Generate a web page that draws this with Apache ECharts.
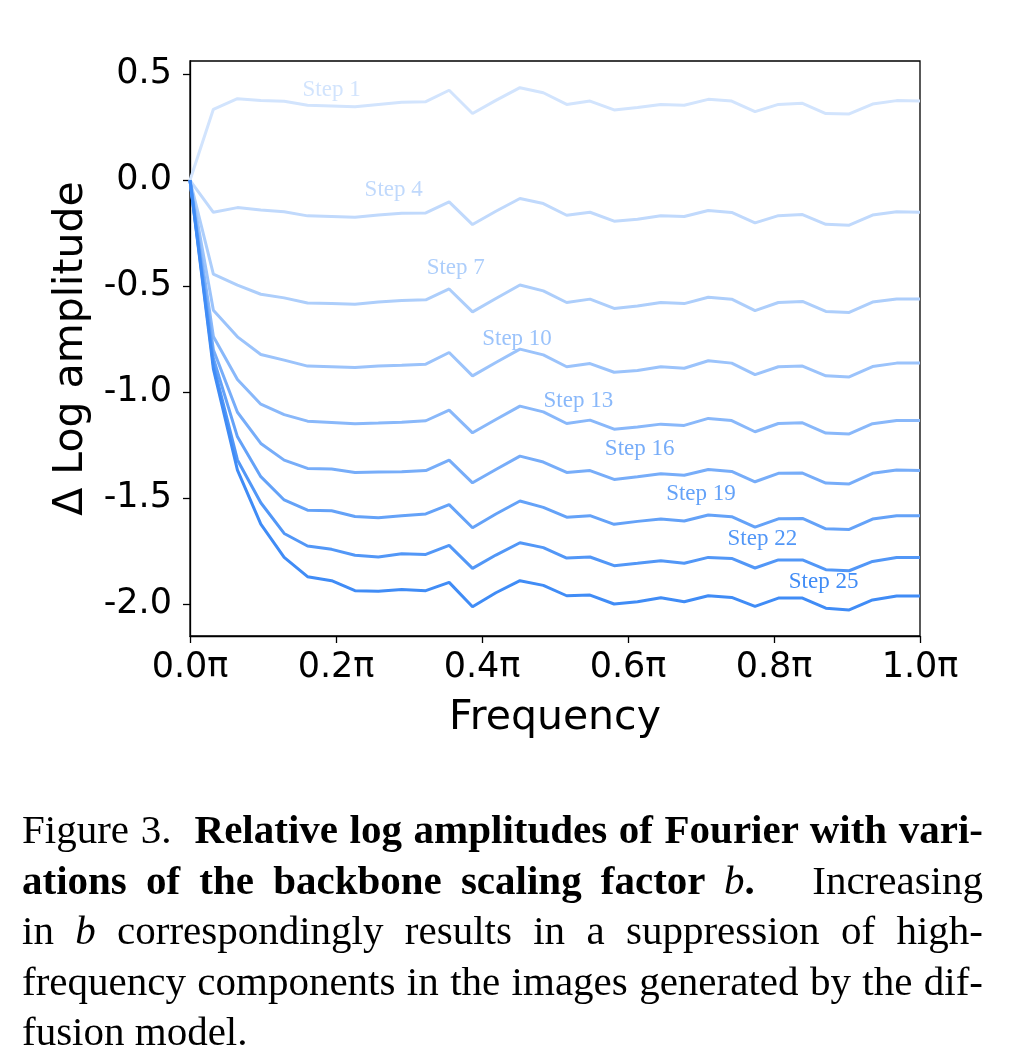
<!DOCTYPE html>
<html>
<head>
<meta charset="utf-8">
<script src="https://cdn.jsdelivr.net/npm/echarts@6/dist/echarts.min.js"></script>
<style>
  html, body { margin: 0; padding: 0; background: #fff; }
  #wrap { position: relative; width: 1036px; height: 1064px; }
  #chart { position: absolute; left: 0; top: 0; width: 1036px; height: 1064px; }
  #caption {
    position: absolute; left: 22px; top: 804px; width: 961px;
    font-family: "Liberation Serif", "Times New Roman", serif;
    font-size: 41px; line-height: 50.6px; color: #000;
  }
  #caption div { text-align: justify; text-align-last: justify; }
  #caption div.last { text-align-last: left; }
</style>
</head>
<body>
<div id="wrap">
  <div id="chart"></div>
  <div id="caption">
    <div>Figure 3.&nbsp; <b>Relative log amplitudes of Fourier with vari-</b></div>
    <div><b>ations of the backbone scaling factor <i style="font-weight:normal">b</i>.</b>&nbsp;&nbsp; Increasing</div>
    <div>in <i>b</i> correspondingly results in a suppression of high-</div>
    <div>frequency components in the images generated by the dif-</div>
    <div class="last">fusion model.</div>
  </div>
</div>
<script>
// frequency (in units of pi)
var freq = [0, 0.032, 0.065, 0.097, 0.129, 0.161, 0.194, 0.226, 0.258, 0.290, 0.323, 0.355,
  0.387, 0.419, 0.452, 0.484, 0.516, 0.548, 0.581, 0.613, 0.645, 0.677, 0.710, 0.742,
  0.774, 0.806, 0.839, 0.871, 0.903, 0.935, 0.968, 1.0];

var stepNames = ["Step 1", "Step 4", "Step 7", "Step 10", "Step 13", "Step 16", "Step 19", "Step 22", "Step 25"];

var step1 = [0, 0.335, 0.385, 0.377, 0.373, 0.354, 0.351, 0.347, 0.358, 0.368, 0.371, 0.425, 0.315, 0.377, 0.437, 0.413,
  0.358, 0.374, 0.332, 0.343, 0.358, 0.354, 0.382, 0.374, 0.324, 0.358, 0.363, 0.315, 0.313, 0.360, 0.376, 0.374];
var step4 = [0, -0.151, -0.129, -0.140, -0.149, -0.168, -0.171, -0.175, -0.164, -0.156, -0.154, -0.102, -0.209, -0.146, -0.086, -0.110,
  -0.165, -0.151, -0.193, -0.184, -0.167, -0.171, -0.143, -0.152, -0.201, -0.167, -0.162, -0.208, -0.212, -0.164, -0.149, -0.151];
var step7 = [0, -0.443, -0.495, -0.538, -0.555, -0.579, -0.582, -0.585, -0.575, -0.568, -0.564, -0.513, -0.621, -0.558, -0.494, -0.522,
  -0.577, -0.561, -0.605, -0.593, -0.577, -0.582, -0.552, -0.561, -0.615, -0.577, -0.572, -0.619, -0.624, -0.575, -0.560, -0.560];
var step10 = [0, -0.613, -0.739, -0.822, -0.849, -0.877, -0.880, -0.884, -0.877, -0.873, -0.868, -0.813, -0.923, -0.860, -0.797, -0.824,
  -0.880, -0.865, -0.906, -0.898, -0.880, -0.887, -0.852, -0.863, -0.917, -0.880, -0.877, -0.923, -0.928, -0.879, -0.863, -0.863];
var step13 = [0, -0.737, -0.940, -1.057, -1.106, -1.137, -1.143, -1.149, -1.146, -1.142, -1.135, -1.085, -1.192, -1.129, -1.066, -1.093,
  -1.148, -1.132, -1.175, -1.165, -1.151, -1.157, -1.124, -1.134, -1.187, -1.148, -1.145, -1.193, -1.197, -1.149, -1.134, -1.134];
var step16 = [0, -0.800, -1.095, -1.242, -1.321, -1.360, -1.363, -1.379, -1.377, -1.376, -1.370, -1.321, -1.428, -1.365, -1.302, -1.330,
  -1.379, -1.370, -1.412, -1.399, -1.385, -1.392, -1.365, -1.374, -1.423, -1.383, -1.382, -1.429, -1.433, -1.383, -1.368, -1.370];
var step19 = [0, -0.840, -1.211, -1.399, -1.509, -1.557, -1.560, -1.587, -1.593, -1.583, -1.575, -1.531, -1.640, -1.575, -1.514, -1.544,
  -1.590, -1.583, -1.624, -1.610, -1.599, -1.608, -1.580, -1.588, -1.637, -1.598, -1.596, -1.645, -1.648, -1.599, -1.583, -1.583];
var step22 = [0, -0.870, -1.320, -1.522, -1.667, -1.726, -1.742, -1.770, -1.778, -1.763, -1.766, -1.723, -1.832, -1.769, -1.711, -1.734,
  -1.783, -1.778, -1.819, -1.808, -1.796, -1.808, -1.780, -1.785, -1.830, -1.792, -1.792, -1.838, -1.843, -1.799, -1.780, -1.780];
var step25 = [0, -0.890, -1.368, -1.623, -1.780, -1.871, -1.890, -1.937, -1.940, -1.931, -1.937, -1.898, -2.013, -1.947, -1.890, -1.912,
  -1.961, -1.958, -2.000, -1.989, -1.970, -1.989, -1.961, -1.969, -2.011, -1.972, -1.972, -2.020, -2.028, -1.981, -1.962, -1.962];

// where each "Step n" text sits, in data units
var labelX = [0.194, 0.279, 0.364, 0.448, 0.532, 0.616, 0.700, 0.784, 0.868];
var labelY = [0.427, -0.045, -0.415, -0.750, -1.042, -1.269, -1.481, -1.691, -1.896];

var xTicks = [0, 0.2, 0.4, 0.6, 0.8, 1.0];
var yTicks = [-2.0, -1.5, -1.0, -0.5, 0.0, 0.5];

var colors = ["#d2e4fd", "#c0d9fc", "#adcefb", "#9bc3fb", "#89b8fa", "#77adf9", "#64a2f8", "#5297f7", "#408cf6"];

var allSteps = [step1, step4, step7, step10, step13, step16, step19, step22, step25];

var chart = echarts.init(document.getElementById("chart"));

var series = allSteps.map(function (vals, i) {
  return {
    name: stepNames[i],
    type: "line",
    showSymbol: false,
    silent: true,
    data: vals.map(function (v, k) { return [freq[k], v]; }),
    lineStyle: { color: colors[i], width: 3 },
    itemStyle: { color: colors[i] },
    z: 2 + i,
    markPoint: {
      symbol: "circle",
      symbolSize: 0,
      silent: true,
      label: {
        show: true,
        position: "inside",
        formatter: "{b}",
        fontFamily: "Liberation Serif",
        fontSize: 23,
        color: colors[i]
      },
      data: [{ name: stepNames[i], coord: [labelX[i], labelY[i]] }]
    }
  };
});

var axisFont = "DejaVu Sans";

var option = {
  animation: false,
  grid: {
    left: 190, right: 116, top: 61, bottom: 428,
    show: true, borderColor: "#000", borderWidth: 1.3
  },
  xAxis: {
    type: "value",
    min: 0,
    max: 1,
    name: "Frequency",
    nameLocation: "middle",
    nameGap: 62,
    nameTextStyle: { fontFamily: axisFont, fontSize: 41, color: "#000" },
    axisLine: { onZero: false, lineStyle: { color: "#000", width: 1.3 } },
    axisTick: { show: true, length: 7, customValues: xTicks, lineStyle: { color: "#000", width: 1.3 } },
    axisLabel: {
      customValues: xTicks,
      margin: 14,
      fontFamily: axisFont,
      fontSize: 35,
      color: "#000",
      formatter: function (v) { return v.toFixed(1) + "π"; }
    },
    splitLine: { show: false }
  },
  yAxis: {
    type: "value",
    min: -2.151,
    max: 0.563,
    name: "Δ Log amplitude",
    nameLocation: "middle",
    nameGap: 98,
    nameTextStyle: { fontFamily: axisFont, fontSize: 41, color: "#000" },
    axisLine: { show: true, onZero: false, lineStyle: { color: "#000", width: 1.3 } },
    axisTick: { show: true, length: 7, customValues: yTicks, lineStyle: { color: "#000", width: 1.3 } },
    axisLabel: {
      customValues: yTicks,
      margin: 18,
      fontFamily: axisFont,
      fontSize: 35,
      color: "#000",
      padding: [6, 0, 0, 0],
      formatter: function (v) { return v.toFixed(1); }
    },
    splitLine: { show: false }
  },
  series: series
};

chart.setOption(option);
</script>
</body>
</html>
